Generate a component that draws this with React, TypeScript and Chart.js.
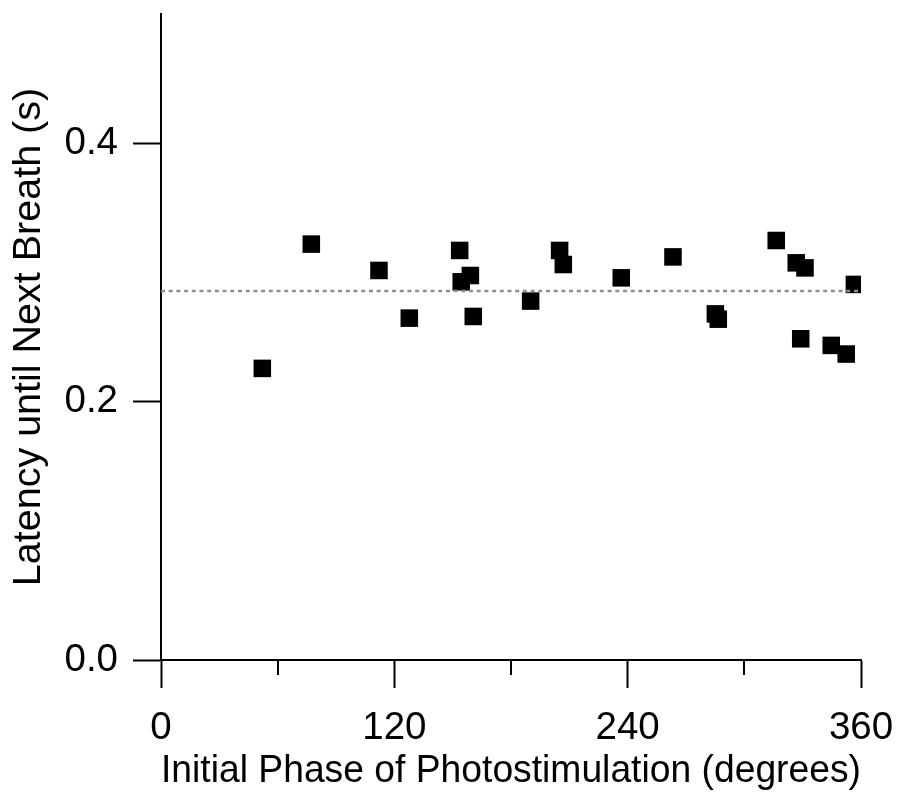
import React, { useEffect, useRef } from 'react';
import { Chart, registerables } from 'chart.js';

Chart.register(...registerables);

const phaseDeg = [52.1, 77.3, 112.1, 127.7, 153.6, 154.4, 159.1, 160.6, 190.1, 205.0, 206.9, 236.7, 263.3, 285.1, 286.6, 316.4, 326.7, 331.2, 329.0, 344.7, 352.4, 356.6];
const latencySec = [0.2257, 0.3219, 0.3015, 0.2646, 0.317, 0.2927, 0.2976, 0.2659, 0.2778, 0.317, 0.3061, 0.2958, 0.312, 0.2679, 0.2638, 0.3247, 0.3074, 0.3035, 0.2486, 0.2435, 0.2368, 0.2907];
const meanLatency = 0.2857;
const meanSpan = [0, 360];
const xMajorTicks = [0, 120, 240, 360];
const xMinorTicks = [60, 180, 300];
const yTicks = [0, 0.2, 0.4];
const xTitle = 'Initial Phase of Photostimulation (degrees)';
const yTitle = 'Latency until Next Breath (s)';

const FONT = "'Liberation Sans', Arial, sans-serif";

const minorTickPlugin = {
  id: 'minorTicks',
  afterDraw(chart: any) {
    const xs = chart.scales.x;
    const ctx = chart.ctx;
    ctx.save();
    ctx.strokeStyle = '#000';
    ctx.lineWidth = 2;
    xMinorTicks.forEach((v) => {
      const px = Math.round(xs.getPixelForValue(v));
      ctx.beginPath();
      ctx.moveTo(px, xs.top);
      ctx.lineTo(px, xs.top + 15);
      ctx.stroke();
    });
    ctx.restore();
  },
};

export default function App() {
  const ref = useRef<HTMLCanvasElement>(null);
  useEffect(() => {
    if (!ref.current) return;
    const chart = new Chart(ref.current, {
      type: 'scatter',
      data: {
        datasets: [
          {
            type: 'line',
            data: meanSpan.map((x) => ({ x, y: meanLatency })),
            borderColor: '#8f8f8f',
            borderWidth: 2.5,
            borderDash: [4, 3.7],
            pointRadius: 0,
            fill: false,
          } as any,
          {
            data: phaseDeg.map((x, i) => ({ x, y: latencySec[i] })),
            pointStyle: 'rect',
            pointRadius: 12.4,
            pointHoverRadius: 12.4,
            backgroundColor: '#000',
            borderColor: '#000',
            borderWidth: 0,
          },
        ],
      },
      options: {
        animation: false,
        responsive: false,
        layout: { padding: { top: 14, right: 36, left: 0, bottom: 0 } },
        plugins: { legend: { display: false }, tooltip: { enabled: false } },
        scales: {
          x: {
            type: 'linear',
            min: 0,
            max: 360,
            afterFit: (s: any) => {
              s.height = 134;
              s.paddingLeft = 0;
              s.paddingRight = 0;
            },
            afterBuildTicks: (s: any) => {
              s.ticks = [...xMajorTicks, ...xMinorTicks].sort((a, b) => a - b).map((v) => ({ value: v }));
            },
            border: { display: true, color: '#000', width: 2 },
            grid: {
              drawOnChartArea: false,
              drawTicks: true,
              tickLength: 28,
              tickWidth: 2,
              tickColor: (c: any) => (xMajorTicks.includes(c.tick?.value) ? '#000' : 'rgba(0,0,0,0)'),
            },
            ticks: {
              color: '#000',
              padding: 21,
              maxRotation: 0,
              autoSkip: false,
              font: { family: FONT, size: 38.5, lineHeight: 1 },
              callback: (v: any) => (xMajorTicks.includes(v) ? String(v) : ''),
            },
            title: {
              display: true,
              text: xTitle,
              color: '#000',
              font: { family: FONT, size: 39, lineHeight: 1 },
              padding: { top: 0, bottom: 3 },
            },
          },
          y: {
            type: 'linear',
            min: 0,
            max: 0.5,
            afterFit: (s: any) => {
              s.width = 161;
              s.paddingTop = 0;
              s.paddingBottom = 0;
            },
            afterBuildTicks: (s: any) => {
              s.ticks = yTicks.map((v) => ({ value: v }));
            },
            border: { display: true, color: '#000', width: 2 },
            grid: {
              drawOnChartArea: false,
              drawTicks: true,
              tickLength: 28,
              tickWidth: 2,
              tickColor: '#000',
            },
            ticks: {
              color: '#000',
              padding: 15,
              font: { family: FONT, size: 38.5, lineHeight: 1 },
              callback: (v: any) => Number(v).toFixed(1),
            },
            title: {
              display: true,
              text: yTitle,
              color: '#000',
              font: { family: FONT, size: 39.5, lineHeight: 1 },
              padding: { top: 9, bottom: 0 },
            },
          },
        },
      },
      plugins: [minorTickPlugin],
    });
    return () => chart.destroy();
  }, []);
  return (
    <div style={{ position: 'absolute', left: 0, top: 0, width: 897, height: 794, background: '#fff' }}>
      <canvas ref={ref} width={897} height={794} style={{ display: 'block' }} />
    </div>
  );
}
